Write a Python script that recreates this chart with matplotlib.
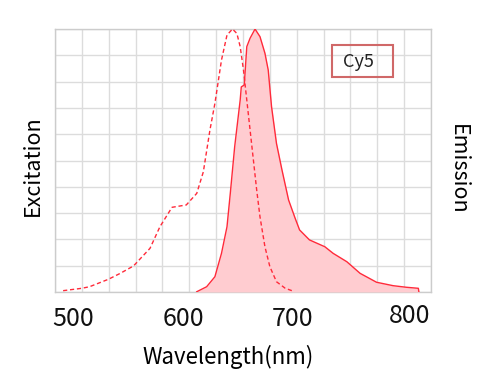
import matplotlib
matplotlib.use("Agg")
import matplotlib.pyplot as plt
from matplotlib.patches import Rectangle
import matplotlib.transforms as mtransforms
import numpy as np

plt.rcParams['font.family'] = ['Noto Sans CJK SC', 'DejaVu Sans']

# excitation spectrum (dashed)
ex_wl = [491, 508, 515, 532, 543, 555, 570, 579, 590, 603, 612.5, 618.5, 624.5,
         629, 635, 640, 645, 649, 652, 655, 658, 661, 664, 667, 670, 674.5, 679,
         685, 693, 699]
ex_val = [0.005, 0.014, 0.02, 0.048, 0.071, 0.099, 0.166, 0.248, 0.322, 0.331,
          0.375, 0.457, 0.616, 0.717, 0.882, 0.977, 1.0, 0.983, 0.933, 0.844,
          0.73, 0.616, 0.502, 0.388, 0.286, 0.172, 0.096, 0.039, 0.014, 0.005]

# emission spectrum (solid, filled)
em_wl = [612.5, 621.5, 629, 635, 640, 643, 647, 652, 653, 655.7, 658, 661, 665.5,
         670, 674.5, 677.5, 680.5, 685, 690, 696, 702, 706, 715, 729, 736.5, 749,
         761, 776, 791, 803, 814, 814.5]
em_val = [0.001, 0.02, 0.058, 0.147, 0.248, 0.375, 0.553, 0.73, 0.78, 0.787,
          0.933, 0.965, 1.0, 0.971, 0.908, 0.844, 0.705, 0.565, 0.464, 0.35, 0.28,
          0.236, 0.198, 0.172, 0.147, 0.115, 0.071, 0.037, 0.024, 0.018, 0.014, 0.0]

ticks = [500, 600, 700, 800]
red = '#ff2a3a'

fig = plt.figure(figsize=(4.9, 3.77), dpi=100)

# grid axes behind: 14 x 10 cells
grid = fig.add_axes([0.1122, 0.2255, 0.7674, 0.6975])
grid.set_xlim(0, 14)
grid.set_ylim(0, 10)
grid.set_xticks(np.arange(0, 15))
grid.set_yticks(np.arange(0, 11))
grid.set_xticklabels([])
grid.set_yticklabels([])
grid.tick_params(length=0)
grid.grid(True, color='#dcdcdc', lw=1)
for s in grid.spines.values():
    s.set_color('#cccccc')
    s.set_linewidth(1)

ax = fig.add_axes([0.1122, 0.2255, 0.7674, 0.6975])
ax.patch.set_visible(False)
for s in ax.spines.values():
    s.set_visible(False)

ax.fill_between(em_wl, em_val, 0, color='#ffccd0', lw=0, zorder=2)
ax.plot(em_wl, em_val, color=red, lw=1.0, zorder=3)
ax.plot(ex_wl, ex_val, color=red, lw=1.0, ls=(0, (3, 2)), zorder=3)

ax.set_xlim(483.6, 825.5)
ax.set_ylim(0, 1.0)
ax.set_xticks(ticks)
ax.set_yticks([])
ax.tick_params(axis='x', length=0, labelsize=18, pad=10, colors='#111111')
ax.set_xlabel('Wavelength(nm)', fontsize=16)
ax.xaxis.set_label_coords(0.46, -0.2)

# last tick label sits a little right and higher in the original
lbl = ax.get_xticklabels()[-1]
lbl.set_transform(lbl.get_transform() +
                  mtransforms.ScaledTranslation(7 / 100, 3 / 100, fig.dpi_scale_trans))

ax.add_patch(Rectangle((0.736, 0.819), 0.164, 0.12, transform=ax.transAxes,
                       fill=False, edgecolor='#d06868', lw=1.5, zorder=5))
ax.text(0.765, 0.876, 'Cy5', transform=ax.transAxes, ha='left', va='center',
        fontsize=13, color='#222222', zorder=6)

fig.text(0.067, 0.56, 'Excitation', rotation=90, ha='center', va='center', fontsize=15.5)
fig.text(0.935, 0.55, 'Emission', rotation=-90, ha='center', va='center', fontsize=15.5)

fig.savefig('out.png', dpi=100)
